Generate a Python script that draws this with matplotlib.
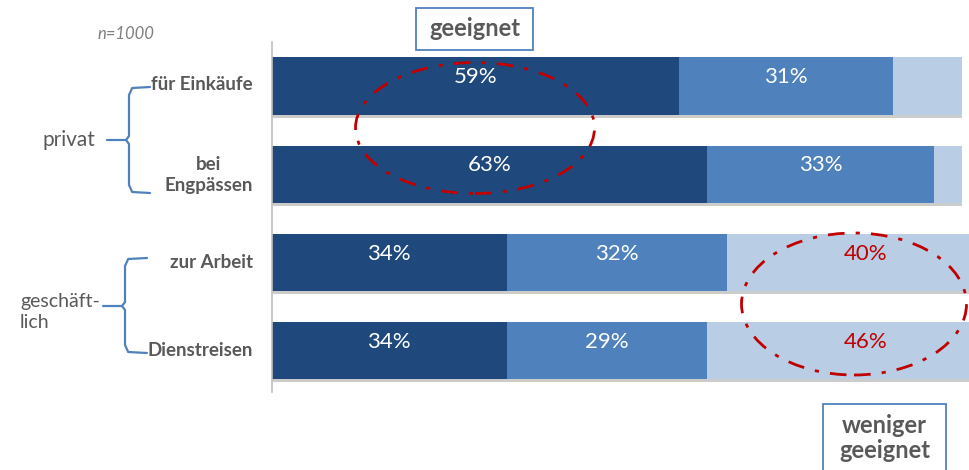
import matplotlib
matplotlib.use("Agg")
import matplotlib.pyplot as plt
import matplotlib.patheffects as pe
from matplotlib.patches import Ellipse, Rectangle
import numpy as np

plt.rcParams["font.family"] = ["Lato", "DejaVu Sans"]

categories = ["für Einkäufe", "bei\nEngpässen", "zur Arbeit", "Dienstreisen"]
sehr_geeignet = [59, 63, 34, 34]
eher_geeignet = [31, 33, 32, 29]
weniger_geeignet = [10, 4, 40, 46]
show_weniger = [False, False, True, True]

DARK = "#1F497D"
MID = "#4F81BD"
LIGHT = "#B9CDE5"
GREY = "#595959"
RED = "#C00000"

W, H = 970, 470
fig = plt.figure(figsize=(W / 100, H / 100), dpi=100)


def fx(px):
    return px / W


def fy(py):
    return 1 - py / H


ax = fig.add_axes([fx(272), fy(392), 1 - fx(272), fy(42) - fy(392)])

y = np.arange(len(categories))
shadow = [pe.withSimplePatchShadow(offset=(0, -2), shadow_rgbFace="#000000", alpha=0.2)]
left = np.zeros(len(categories))
for vals, color in [(sehr_geeignet, DARK), (eher_geeignet, MID), (weniger_geeignet, LIGHT)]:
    bars = ax.barh(y, vals, left=left, height=0.65, color=color, edgecolor="none")
    for b in bars:
        b.set_path_effects(shadow)
    left = left + np.array(vals)

# percentage labels
for i in range(len(categories)):
    ax.text(sehr_geeignet[i] / 2, i - 0.1, f"{sehr_geeignet[i]}%", ha="center", va="center",
            color="white", fontsize=16)
    ax.text(sehr_geeignet[i] + eher_geeignet[i] / 2, i - 0.1, f"{eher_geeignet[i]}%",
            ha="center", va="center", color="white", fontsize=16)
    if show_weniger[i]:
        x0 = sehr_geeignet[i] + eher_geeignet[i]
        ax.text(x0 + weniger_geeignet[i] / 2, i - 0.1, f"{weniger_geeignet[i]}%",
                ha="center", va="center", color=RED, fontsize=16, clip_on=False)

ax.set_xlim(0, 101.2)
ax.set_ylim(3.47, -0.5)
ax.set_xticks([])
ax.set_yticks([])
for side in ["top", "right", "bottom"]:
    ax.spines[side].set_visible(False)
ax.spines["left"].set_color("#BFBFBF")
ax.spines["left"].set_linewidth(1.2)

# category labels
label_y = [85, 175, 262, 350]
for lab, ly in zip(categories, label_y):
    fig.text(fx(253), fy(ly), lab, ha="right", va="center", fontsize=13.5, fontweight="bold",
             color=GREY, multialignment="center", linespacing=1.35)

# group labels
fig.text(fx(43), fy(140), "privat", ha="left", va="center", fontsize=15, color=GREY)
fig.text(fx(20), fy(312), "geschäft-\nlich", ha="left", va="center", fontsize=14, color=GREY,
         linespacing=1.25)
fig.text(fx(98), fy(34), "n=1000", ha="left", va="center", fontsize=12, color="#7F7F7F",
         style="italic")


# curly braces
def brace(x_end, x_mid, x_tip, y_top, y_bot, y_tip):
    r = 8
    xs = [x_end, x_mid + r * 0.4, x_mid, x_mid, x_mid - 3, x_tip]
    ys = [y_top, y_top + 1, y_top + r, y_tip - 4, y_tip, y_tip]
    fig.add_artist(plt.Line2D([fx(v) for v in xs], [fy(v) for v in ys], color=MID, lw=1.6,
                              solid_capstyle="round", solid_joinstyle="round"))
    xs = [x_end, x_mid + r * 0.4, x_mid, x_mid, x_mid - 3]
    ys = [y_bot, y_bot - 1, y_bot - r, y_tip + 4, y_tip]
    fig.add_artist(plt.Line2D([fx(v) for v in xs], [fy(v) for v in ys], color=MID, lw=1.6,
                              solid_capstyle="round", solid_joinstyle="round"))


brace(150, 129, 107, 87, 193, 140)
brace(147, 125, 103, 258, 353, 306)

# boxes
def box_label(x0, y0, x1, y1, text, ty):
    fig.add_artist(Rectangle((fx(x0), fy(y1)), fx(x1 - x0), fy(y0) - fy(y1),
                             transform=fig.transFigure, fill=False, edgecolor=MID, lw=1.3))
    fig.text(fx((x0 + x1) / 2), fy(ty), text, ha="center", va="center", fontsize=17,
             fontweight="bold", color=GREY, linespacing=1.1)


box_label(416, 8, 533, 50, "geeignet", 29)
box_label(823, 404, 946, 475, "weniger\ngeeignet", 438)

# highlight ellipses
for cx, cy, ew, eh in [(475, 128, 239, 131), (854, 304, 225, 142)]:
    fig.add_artist(Ellipse((fx(cx), fy(cy)), fx(ew), eh / H, transform=fig.transFigure,
                           fill=False, edgecolor=RED, lw=2, linestyle=(0, (6, 4, 1.5, 4))))

fig.savefig("out.png", dpi=100)
